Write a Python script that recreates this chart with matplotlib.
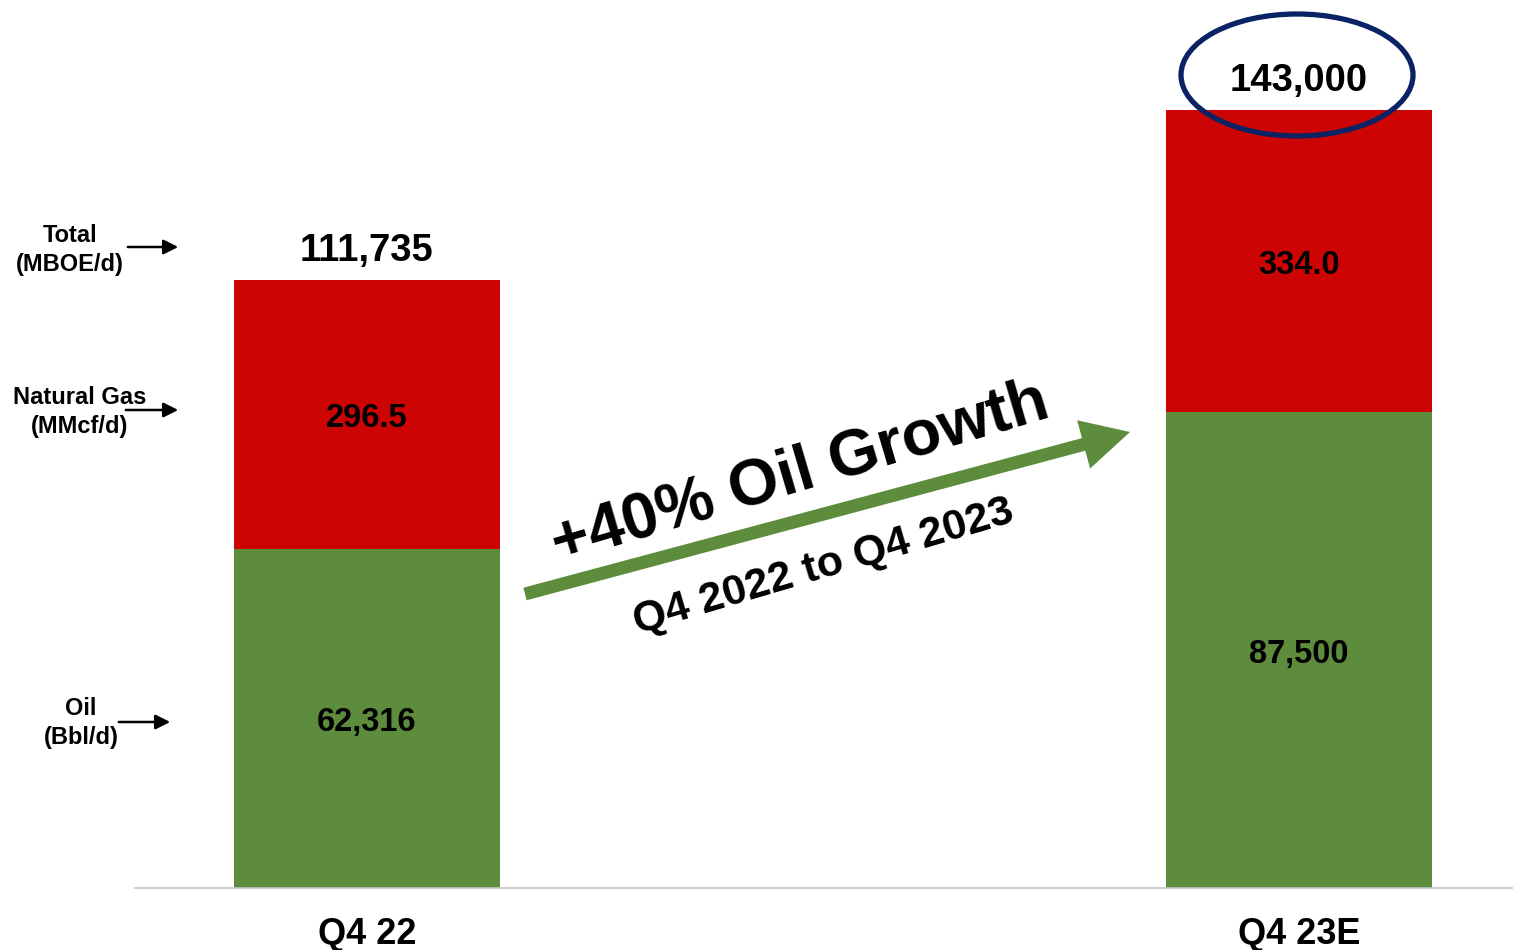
import matplotlib
matplotlib.use('Agg')
import matplotlib.pyplot as plt
from matplotlib.patches import Ellipse, FancyArrow

plt.rcParams['font.family'] = ['Liberation Sans', 'DejaVu Sans']
plt.rcParams['font.weight'] = 'bold'

quarters = ['Q4 22', 'Q4 23E']
oil_bbl = [62316, 87500]
total_boe = [111735, 143000]
gas_mmcf = [296.5, 334.0]
gas_boe = [t - o for t, o in zip(total_boe, oil_bbl)]

green = '#5e8c3d'
red = '#cc0404'
navy = '#0b2265'

fig = plt.figure(figsize=(15.13, 9.5), dpi=100)
ax = fig.add_axes([135 / 1513, 62 / 950, 1378 / 1513, 888 / 950])

x = [0, 1]
w = 0.2856
ax.bar(x, oil_bbl, width=w, color=green, zorder=2)
ax.bar(x, gas_boe, width=w, bottom=oil_bbl, color=red, zorder=2)

for i in range(2):
    ax.annotate(f'{oil_bbl[i]:,}', (x[i], oil_bbl[i] / 2), xytext=(0, -3), textcoords='offset points',
                ha='center', va='center', fontsize=23.5, color='black')
    ax.annotate(f'{gas_mmcf[i]:.1f}', (x[i], oil_bbl[i] + gas_boe[i] / 2), xytext=(0, -3),
                textcoords='offset points', ha='center', va='center', fontsize=23.5, color='black')
    ax.annotate(f'{total_boe[i]:,}', (x[i], total_boe[i]), xytext=(0, 21), textcoords='offset points',
                ha='center', va='center', fontsize=27.5, color='black')

ax.set_xlim(-0.249, 1.230)
ax.set_ylim(0, 163300)
ax.set_xticks(x)
ax.set_xticklabels(quarters, fontsize=26)
ax.tick_params(axis='x', length=0, pad=21)
ax.set_yticks([])
for s in ['top', 'right', 'left']:
    ax.spines[s].set_visible(False)
ax.spines['bottom'].set_color('#c4c4c4')
ax.spines['bottom'].set_linewidth(1.2)

# overlay in pixel coordinates for the callouts
ov = fig.add_axes([0, 0, 1, 1], zorder=5)
ov.set_xlim(0, 1513)
ov.set_ylim(950, 0)
ov.axis('off')
ov.patch.set_alpha(0)

ov.add_patch(FancyArrow(525, 594, 605, -162, width=13, head_width=50, head_length=48,
                        length_includes_head=True, color=green, lw=0))
ov.text(800, 473, '+40% Oil Growth', rotation=16.5, ha='center', va='center',
        fontsize=46.5, rotation_mode='anchor')
ov.text(824, 567, 'Q4 2022 to Q4 2023', rotation=16.5, ha='center', va='center',
        fontsize=31, rotation_mode='anchor')

ov.add_patch(Ellipse((1297, 75), 232, 122, fill=False, ec=navy, lw=3.8))

side_labels = [('Total\n(MBOE/d)', 70, 250, 125, 181, 247),
               ('Natural Gas\n(MMcf/d)', 80, 412, 123, 181, 410),
               ('Oil\n(Bbl/d)', 81, 723, 116, 173, 722)]
for txt, tx, ty, x0, x1, ay in side_labels:
    ov.text(tx, ty, txt, ha='center', va='center', fontsize=17, linespacing=1.3)
    ov.annotate('', xy=(x1, ay), xytext=(x0, ay),
                arrowprops=dict(arrowstyle='-|>', color='black', lw=1.8, mutation_scale=22))

fig.savefig('out.png', dpi=100)
